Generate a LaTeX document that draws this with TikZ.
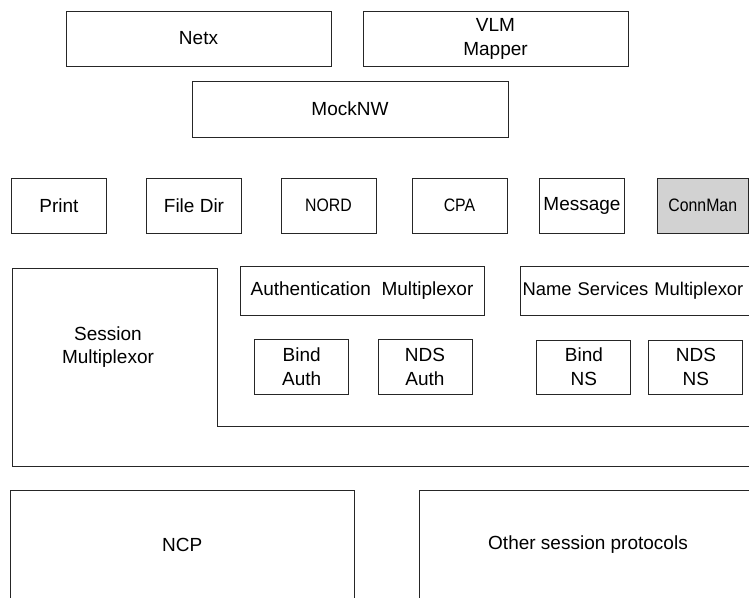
\documentclass[tikz,border=0pt]{standalone}
\usepackage{fontspec}
\setmainfont{Liberation Sans}
\newfontfamily\narrowsf[FakeStretch=0.88]{Liberation Sans}
\usepackage{tikz}

\begin{document}
\begin{tikzpicture}[x=1pt, y=-1pt,
    layer/.style={rectangle, draw=black!85, line width=1pt, inner sep=3.5pt, align=center, font=\fontsize{19}{24}\selectfont},
    module/.style={layer, minimum width=95pt, minimum height=55pt},
    narrowmod/.style={module, font=\narrowsf\fontsize{18}{22}\selectfont},
    subsvc/.style={layer, minimum width=94pt, minimum height=55pt},
    muxbox/.style={layer, minimum height=49pt},
    proto/.style={layer, minimum width=340pt, minimum height=108.6pt}]
    \useasboundingbox (0,0) rectangle (749,597);
    \clip (0,0) rectangle (749,597);

    % top layer
    \node[layer, minimum width=265pt, minimum height=55pt] (netx) at (198.5,38.5) {Netx};
    \node[layer, minimum width=265pt, minimum height=55pt] (vlm) at (495.5,38.5) {VLM\\Mapper};
    \node[layer, minimum width=316pt, minimum height=56pt] (mocknw) at (350,109) {MockNW};

    % service modules
    \node[module] (print) at (59,205.5) {Print};
    \node[module] (filedir) at (194,205.5) {File Dir};
    \node[narrowmod] (nord) at (328.5,205.5) {NORD};
    \node[narrowmod] (cpa) at (459.5,205.5) {CPA};
    \node[module, minimum width=82pt] (message) at (582,205.5) {Message};
    \node[narrowmod, fill=gray!35, minimum width=91.5pt] (connman) at (702.75,205.5) {ConnMan};

    % session multiplexor
    \draw[draw=black!85, line width=1pt] (12,268.3) -- (217,268.3) -- (217,426.7) -- (770,426.7)
        -- (770,466.7) -- (12,466.7) -- cycle;
    \node[font=\fontsize{19}{23}\selectfont, align=center] (sessmux) at (108,347) {Session\\Multiplexor};

    \node[muxbox, minimum width=244pt] (authmux) at (362,290.5) {Authentication~ Multiplexor};
    \node[muxbox, anchor=west, inner xsep=2.5pt, text width=253pt, align=left,
        font=\fontsize{18.4}{22}\selectfont] (nsmux) at (519.5,290.5) {Name Services Multiplexor};

    \node[subsvc] (bindauth) at (301.75,367) {Bind\\Auth};
    \node[subsvc] (ndsauth) at (425,367) {NDS\\Auth};
    \node[subsvc, minimum height=54pt] (bindns) at (583.9,367) {Bind\\NS};
    \node[subsvc, minimum height=54pt] (ndsns) at (695.9,367) {NDS\\NS};

    % session protocols
    \node[proto, minimum width=343.4pt] (ncp) at (182.3,545) {NCP};
    \node[proto, minimum width=338pt] (othersess) at (588,545) {Other session protocols};
\end{tikzpicture}
\end{document}
